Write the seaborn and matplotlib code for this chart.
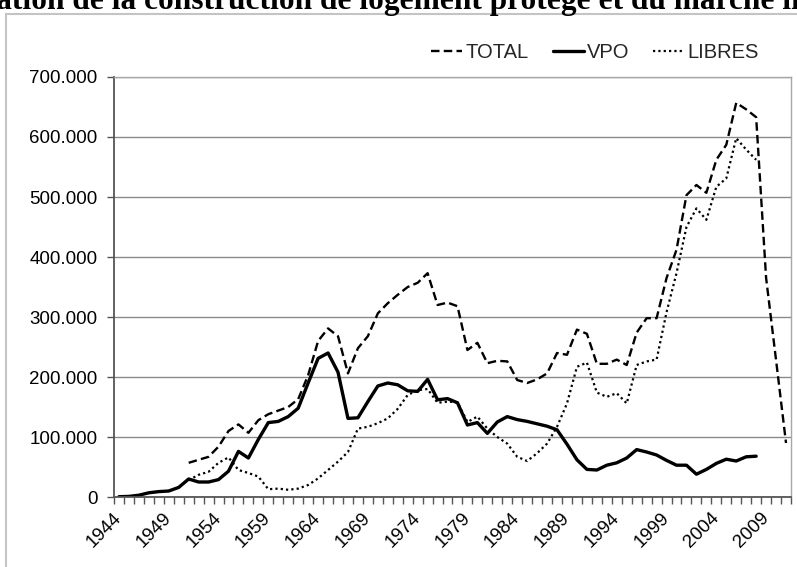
import numpy as np
import pandas as pd
import matplotlib
matplotlib.use("Agg")
import matplotlib.pyplot as plt
import seaborn as sns
from matplotlib.ticker import FuncFormatter
from matplotlib.patches import Rectangle

# ---------------- data (thousands of dwellings) ----------------
years_vpo = list(range(1944, 2009))
vpo = [0.5, 1, 3, 7, 9, 10, 16, 30, 25, 25,
       29, 43, 76, 65, 96, 124, 126, 134, 148, 190,
       231, 240, 208, 131, 132, 159, 185, 190, 187, 177,
       176, 196, 162, 164, 157, 120, 124, 106, 125, 134,
       129, 126, 122, 118, 112, 88, 62, 46, 45, 53,
       57, 65, 79, 75, 70, 61, 53, 53, 38, 46,
       56, 63, 60, 67, 68]

years_total = list(range(1951, 2012))
total = [57, 62, 67, 84, 110, 121, 107, 128, 138, 144,
         150, 163, 203, 260, 281, 268, 206, 248, 268, 306,
         323, 337, 350, 357, 373, 320, 324, 318, 245, 257,
         223, 227, 226, 195, 190, 196, 206, 240, 237, 279,
         272, 222, 222, 229, 220, 274, 298, 298, 365, 412,
         503, 520, 507, 562, 587, 657, 646, 633, 365, 228,
         90]

years_libres = list(range(1951, 2009))
libres = [28, 37, 42, 57, 66, 45, 40, 34, 13, 14,
          12, 14, 20, 31, 45, 59, 75, 114, 117, 123,
          131, 147, 170, 178, 180, 157, 159, 158, 125, 134,
          114, 100, 89, 67, 60, 73, 89, 117, 156, 217,
          224, 174, 167, 173, 156, 220, 226, 229, 308, 373,
          450, 481, 462, 517, 531, 598, 579, 562]

xtick_years = list(range(1944, 2010, 5))
ytick_values = list(range(0, 700001, 100000))
series_names = ["TOTAL", "VPO", "LIBRES"]
title_text = "Variation de la construction de logement protégé et du marché libre"

# ---------------- style ----------------
sns.set_style("white")
plt.rcParams['font.family'] = ['Liberation Sans', 'DejaVu Sans']

W, H = 797, 567
fig = plt.figure(figsize=(W / 100, H / 100), dpi=100)
ax = fig.add_axes([114 / W, 1 - 497 / H, (791 - 114) / W, (497 - 77) / H])

df_total = pd.DataFrame({"year": years_total, "value": np.array(total) * 1000})
df_vpo = pd.DataFrame({"year": years_vpo, "value": np.array(vpo) * 1000})
df_lib = pd.DataFrame({"year": years_libres, "value": np.array(libres) * 1000})

sns.lineplot(data=df_total, x="year", y="value", ax=ax, color="black",
             lw=1.7, linestyle=(0, (3.6, 1.8)), label=series_names[0])
sns.lineplot(data=df_vpo, x="year", y="value", ax=ax, color="black",
             lw=2.4, linestyle="-", label=series_names[1])
sns.lineplot(data=df_lib, x="year", y="value", ax=ax, color="black",
             lw=1.6, linestyle=(0, (1, 1.4)), label=series_names[2])

ax.set_xlim(1943.5, 2011.5)
ax.set_ylim(0, 700000)
ax.set_xlabel("")
ax.set_ylabel("")

# x axis
ax.set_xticks(xtick_years)
ax.set_xticklabels([str(y) for y in xtick_years], rotation=45, ha="right",
                   va="center", rotation_mode="anchor")
ax.set_xticks(np.arange(1943.5, 2012, 1.0), minor=True)
ax.tick_params(axis="x", which="major", bottom=True, length=0, pad=13,
               labelsize=13.5, labelcolor="black")
ax.tick_params(axis="x", which="minor", bottom=True, length=5, width=1,
               color="#555555", direction="out")

# y axis
ax.set_yticks(ytick_values)
ax.yaxis.set_major_formatter(FuncFormatter(lambda v, p: f"{int(v):,}".replace(",", ".")))
ax.tick_params(axis="y", which="major", left=True, length=5, width=1,
               color="#555555", direction="out", pad=7, labelsize=13.5,
               labelcolor="black")
ax.yaxis.grid(True, color="#8a8a8a", lw=1)
ax.xaxis.grid(False)
ax.set_axisbelow(True)

for s in ["left", "bottom"]:
    ax.spines[s].set_color("#555555")
    ax.spines[s].set_linewidth(1.3)
for s in ["top", "right"]:
    ax.spines[s].set_color("#a8a8a8")
    ax.spines[s].set_linewidth(1.0)

# legend
ax.legend(loc="center left", bbox_to_anchor=(431 / W, 1 - 53 / H),
          bbox_transform=fig.transFigure, ncol=3, frameon=False,
          fontsize=14.5, handlelength=1.55, handletextpad=0.15,
          columnspacing=1.2, borderpad=0, borderaxespad=0)

# outer frame
fig.patches.append(Rectangle((6 / W, -0.05), 1.1, (1 - 14 / H) + 0.05,
                             transform=fig.transFigure, fill=False,
                             edgecolor="#c4c4c4", lw=1.5))

# title (cropped at the top, as in the reference)
r = fig.canvas.get_renderer()
visible = "ation de la construction de logement protégé et du marché li"
probe = fig.text(0, 0, visible, fontsize=20, family="Liberation Serif", weight="bold")
w_vis = probe.get_window_extent(r).width
probe.remove()
fs = 20 * 803 / w_vis
pre = fig.text(0, 0, "Vari", fontsize=fs, family="Liberation Serif", weight="bold")
w_pre = pre.get_window_extent(r).width
pre.remove()
fig.text((-4 - w_pre) / W, 1 - 9 / H, title_text, fontsize=fs,
         family="Liberation Serif", weight="bold", ha="left", va="baseline",
         color="black")

fig.savefig("out.png", dpi=100)
